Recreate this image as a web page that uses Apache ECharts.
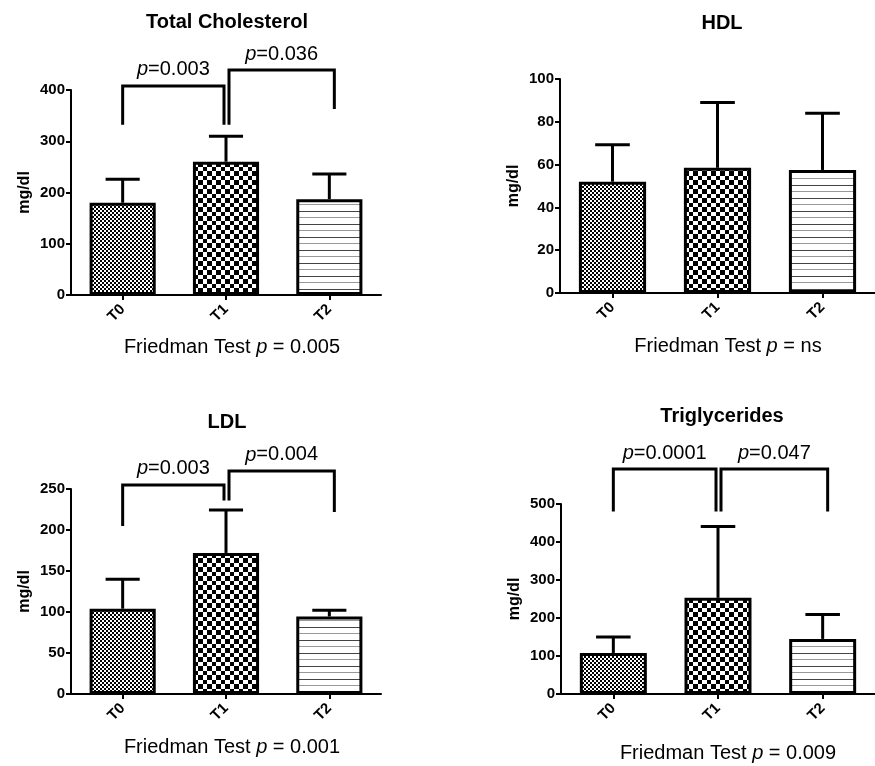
<!DOCTYPE html>
<html>
<head>
<meta charset="utf-8">
<script src="https://cdn.jsdelivr.net/npm/echarts@6/dist/echarts.min.js"></script>
<style>
html,body{margin:0;padding:0;background:#fff;}
#main{width:875px;height:766px;}
</style>
</head>
<body>
<div id="main"></div>
<script>
// ---------- data ----------
const categories = ['T0', 'T1', 'T2'];

const tcMean  = [180, 260, 187];
const tcUpper = [226, 310, 236];
const hdlMean  = [52, 58.5, 57.5];
const hdlUpper = [69.3, 89, 84];
const ldlMean  = [104, 172, 94.5];
const ldlUpper = [140, 224.5, 102];
const tgMean  = [108, 253, 145];
const tgUpper = [150, 441, 209];

// brackets: [fromCat, toCat, topValue, leftLegEnd, rightLegEnd]
const tcBrackets  = [[0, 1, 408, 332, 332], [1, 2, 439, 332, 363]];
const tcBracketP  = ['0.003', '0.036'];
const ldlBrackets = [[0, 1, 255, 205, 236], [1, 2, 272, 236, 222]];
const ldlBracketP = ['0.003', '0.004'];
const tgBrackets  = [[0, 1, 592, 480, 480], [1, 2, 592, 480, 480]];
const tgBracketP  = ['0.0001', '0.047'];
const hdlBrackets = [];
const hdlBracketP = [];

const yTicks = {
  tc:  {max: 400, interval: 100},
  hdl: {max: 100, interval: 20},
  ldl: {max: 250, interval: 50},
  tg:  {max: 500, interval: 100}
};

const titles = ['Total Cholesterol', 'HDL', 'LDL', 'Triglycerides'];
const friedmanP = ['0.005', 'ns', '0.001', '0.009'];
const yName = 'mg/dl';

// ---------- patterns ----------
function makePattern(kind) {
  const c = document.createElement('canvas');
  const ctx = c.getContext('2d');
  if (kind === 'fine') {
    c.width = 4; c.height = 4;
    ctx.fillStyle = '#fff'; ctx.fillRect(0, 0, 4, 4);
    ctx.fillStyle = '#000';
    ctx.fillRect(0, 0, 2, 2); ctx.fillRect(2, 2, 2, 2);
  } else if (kind === 'coarse') {
    c.width = 18; c.height = 18;
    const edges = [0, 5, 9, 14, 18];
    ctx.fillStyle = '#fff'; ctx.fillRect(0, 0, 18, 18);
    ctx.fillStyle = '#000';
    for (let i = 0; i < 4; i++) {
      for (let j = 0; j < 4; j++) {
        if ((i + j) % 2 === 0) {
          ctx.fillRect(edges[i], edges[j], edges[i + 1] - edges[i], edges[j + 1] - edges[j]);
        }
      }
    }
  } else {
    c.width = 4; c.height = 13;
    ctx.fillStyle = '#fff'; ctx.fillRect(0, 0, 4, 13);
    ctx.fillStyle = '#444'; ctx.fillRect(0, 3, 4, 1);
    ctx.fillStyle = '#999'; ctx.fillRect(0, 9, 4, 1);
  }
  return {image: c, repeat: 'repeat'};
}
const patterns = [makePattern('fine'), makePattern('coarse'), makePattern('lines')];

// ---------- layout ----------
const FONT = '"Liberation Sans", Arial, Helvetica, sans-serif';
const panels = [
  {key: 'tc',  mean: tcMean,  upper: tcUpper,  br: tcBrackets,  brP: tcBracketP,
   grid: {left: 71, top: 90, width: 310, height: 205}, titleXY: [227, 22], fXY: [232, 347]},
  {key: 'hdl', mean: hdlMean, upper: hdlUpper, br: hdlBrackets, brP: hdlBracketP,
   grid: {left: 560, top: 79, width: 321, height: 214}, titleXY: [722, 23], fXY: [728, 346]},
  {key: 'ldl', mean: ldlMean, upper: ldlUpper, br: ldlBrackets, brP: ldlBracketP,
   grid: {left: 71, top: 489, width: 310, height: 205}, titleXY: [227, 422], fXY: [232, 747]},
  {key: 'tg',  mean: tgMean,  upper: tgUpper,  br: tgBrackets,  brP: tgBracketP,
   grid: {left: 561, top: 504, width: 321, height: 190}, titleXY: [722, 416], fXY: [728, 753]}
];

const grids = [], xAxes = [], yAxes = [], series = [], graphics = [];

panels.forEach((p, gi) => {
  grids.push(Object.assign({containLabel: false}, p.grid));
  xAxes.push({
    type: 'category', gridIndex: gi, data: categories,
    axisLine: {show: true, lineStyle: {color: '#000', width: 2}},
    axisTick: {show: true, alignWithLabel: true, length: 5, lineStyle: {color: '#000', width: 2}},
    axisLabel: {rotate: 45, margin: 12, color: '#000', fontWeight: 'bold', fontSize: 15, fontFamily: FONT},
    splitLine: {show: false}
  });
  yAxes.push({
    type: 'value', gridIndex: gi, min: 0, max: yTicks[p.key].max, interval: yTicks[p.key].interval,
    name: yName, nameLocation: 'middle', nameGap: 38,
    nameTextStyle: {color: '#000', fontWeight: 'bold', fontSize: 16, fontFamily: FONT},
    axisLine: {show: true, lineStyle: {color: '#000', width: 2}},
    axisTick: {show: true, length: 5, lineStyle: {color: '#000', width: 2}},
    axisLabel: {margin: 6, color: '#000', fontWeight: 'bold', fontSize: 15, fontFamily: FONT},
    splitLine: {show: false}
  });
  series.push({
    type: 'bar', xAxisIndex: gi, yAxisIndex: gi, barWidth: '64%',
    data: p.mean.map((v, i) => ({value: v, itemStyle: {color: patterns[i]}})),
    itemStyle: {borderColor: '#000', borderWidth: 3},
    z: 3
  });
  series.push({
    type: 'custom', xAxisIndex: gi, yAxisIndex: gi, z: 2,
    data: p.mean.map((m, i) => [i, m, p.upper[i]]),
    encode: {x: 0, y: [1, 2]},
    renderItem: function (params, api) {
      const c = api.value(0);
      const a = api.coord([c, api.value(1)]);
      const b = api.coord([c, api.value(2)]);
      const half = api.size([1, 0])[0] * 0.165;
      const st = {stroke: '#000', lineWidth: 3, fill: null};
      return {type: 'group', children: [
        {type: 'line', shape: {x1: a[0], y1: a[1], x2: b[0], y2: b[1]}, style: st},
        {type: 'line', shape: {x1: b[0] - half, y1: b[1], x2: b[0] + half, y2: b[1]}, style: st}
      ]};
    }
  });
  if (p.br.length) {
    const labels = p.brP;
    series.push({
      type: 'custom', xAxisIndex: gi, yAxisIndex: gi, z: 4, clip: false,
      data: p.br,
      encode: {x: [0, 1], y: [2, 3, 4]},
      renderItem: function (params, api) {
        const f = api.value(0), t = api.value(1);
        const top = api.value(2), l = api.value(3), r = api.value(4);
        const offL = f === 0 ? 0 : 3;
        const offR = t === 1 ? -2 : 5;
        const pl = api.coord([f, l]), plt = api.coord([f, top]);
        const pr = api.coord([t, r]), prt = api.coord([t, top]);
        const x1 = pl[0] + offL, x2 = pr[0] + offR;
        const mid = (x1 + x2) / 2;
        return {type: 'group', children: [
          {type: 'polyline', shape: {points: [[x1, pl[1]], [x1, plt[1]], [x2, prt[1]], [x2, pr[1]]]},
           style: {stroke: '#000', lineWidth: 3, fill: null, lineJoin: 'miter'}},
          {type: 'text', x: mid, y: plt[1] - 6,
           style: {text: '{i|p}=' + labels[params.dataIndex], align: 'center', verticalAlign: 'bottom',
                   fill: '#000', fontSize: 20, fontFamily: FONT,
                   rich: {i: {fontStyle: 'italic', fontSize: 20, fontFamily: FONT, fill: '#000'}}}}
        ]};
      }
    });
  }
  graphics.push({
    type: 'text', x: p.titleXY[0], y: p.titleXY[1],
    style: {text: titles[gi], align: 'center', verticalAlign: 'middle', fill: '#000',
            fontSize: 20, fontWeight: 'bold', fontFamily: FONT}
  });
  graphics.push({
    type: 'text', x: p.fXY[0], y: p.fXY[1],
    style: {text: 'Friedman Test {i|p} = ' + friedmanP[gi], align: 'center', verticalAlign: 'middle',
            fill: '#000', fontSize: 20, fontFamily: FONT,
            rich: {i: {fontStyle: 'italic', fontSize: 20, fontFamily: FONT, fill: '#000'}}}
  });
});

const chart = echarts.init(document.getElementById('main'), null, {renderer: 'canvas'});
chart.setOption({
  animation: false,
  backgroundColor: '#fff',
  grid: grids, xAxis: xAxes, yAxis: yAxes, series: series, graphic: graphics
});
</script>
</body>
</html>
